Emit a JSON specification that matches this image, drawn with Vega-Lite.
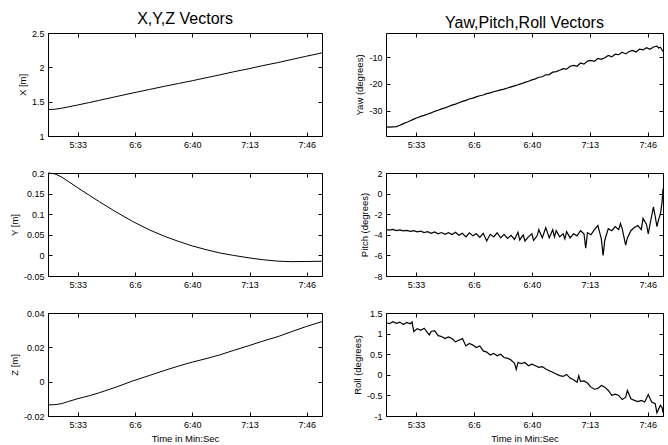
{
  "$schema": "https://vega.github.io/schema/vega-lite/v6.json",
  "background": "white",
  "padding": {"left": 8, "top": 10, "right": 3, "bottom": 2},
  "config": {
    "font": "Liberation Sans",
    "view": {"stroke": "#000", "strokeWidth": 1},
    "axis": {"domain": false, "grid": false, "tickColor": "#000", "tickSize": -4, "labelFontSize": 9, "labelColor": "#000", "labelPadding": 8, "titleFontSize": 9.5, "titleFontWeight": "normal", "titleColor": "#000", "titlePadding": 4},
    "title": {"fontSize": 16, "fontWeight": "normal", "color": "#000", "offset": 2}
  },
  "datasets": {
    "xyz": [
      {"t": 316, "x": 1.385, "y": 0.2, "z": -0.0135},
      {"t": 320, "x": 1.39, "y": 0.198, "z": -0.0134},
      {"t": 324, "x": 1.405, "y": 0.19, "z": -0.0128},
      {"t": 328, "x": 1.425, "y": 0.179, "z": -0.0115},
      {"t": 333, "x": 1.45, "y": 0.165, "z": -0.01},
      {"t": 340, "x": 1.487, "y": 0.146, "z": -0.0082},
      {"t": 346, "x": 1.52, "y": 0.13, "z": -0.0064},
      {"t": 355, "x": 1.57, "y": 0.107, "z": -0.0034},
      {"t": 365, "x": 1.625, "y": 0.083, "z": 0.0003},
      {"t": 375, "x": 1.677, "y": 0.062, "z": 0.0036},
      {"t": 384, "x": 1.725, "y": 0.046, "z": 0.0066},
      {"t": 392, "x": 1.765, "y": 0.034, "z": 0.0091},
      {"t": 400, "x": 1.805, "y": 0.023, "z": 0.0114},
      {"t": 408, "x": 1.848, "y": 0.014, "z": 0.0134},
      {"t": 416, "x": 1.89, "y": 0.006, "z": 0.0156},
      {"t": 424, "x": 1.935, "y": 0.0, "z": 0.0182},
      {"t": 433, "x": 1.98, "y": -0.006, "z": 0.021},
      {"t": 441, "x": 2.025, "y": -0.0105, "z": 0.0236},
      {"t": 450, "x": 2.07, "y": -0.014, "z": 0.0263},
      {"t": 458, "x": 2.115, "y": -0.0152, "z": 0.0292},
      {"t": 466, "x": 2.16, "y": -0.0148, "z": 0.032},
      {"t": 475.5, "x": 2.21, "y": -0.0142, "z": 0.035}
    ],
    "yaw": [
      {"t": 316, "v": -36.0}, {"t": 318, "v": -36.1}, {"t": 320, "v": -36.0}, {"t": 322, "v": -35.9},
      {"t": 324, "v": -35.4}, {"t": 326, "v": -34.8}, {"t": 328, "v": -34.3}, {"t": 330, "v": -33.7},
      {"t": 332, "v": -33.1}, {"t": 334, "v": -32.6}, {"t": 336, "v": -32.1}, {"t": 338, "v": -31.7},
      {"t": 340, "v": -31.2}, {"t": 342, "v": -30.8}, {"t": 344, "v": -30.2}, {"t": 346, "v": -29.8},
      {"t": 348, "v": -29.3}, {"t": 350, "v": -28.9}, {"t": 352, "v": -28.4}, {"t": 354, "v": -27.9},
      {"t": 356, "v": -27.5}, {"t": 358, "v": -27.0}, {"t": 360, "v": -26.5}, {"t": 362, "v": -26.1},
      {"t": 364, "v": -25.6}, {"t": 366, "v": -25.3}, {"t": 368, "v": -24.8}, {"t": 370, "v": -24.4},
      {"t": 372, "v": -24.1}, {"t": 374, "v": -23.6}, {"t": 376, "v": -23.3}, {"t": 378, "v": -22.9},
      {"t": 380, "v": -22.6}, {"t": 382, "v": -22.2}, {"t": 384, "v": -21.9}, {"t": 386, "v": -21.5},
      {"t": 388, "v": -21.1}, {"t": 390, "v": -20.7}, {"t": 392, "v": -20.3}, {"t": 394, "v": -19.9},
      {"t": 396, "v": -19.4}, {"t": 398, "v": -19.0}, {"t": 400, "v": -18.5}, {"t": 402, "v": -18.1},
      {"t": 404, "v": -17.5}, {"t": 406, "v": -17.3}, {"t": 408, "v": -16.6}, {"t": 410, "v": -16.5},
      {"t": 412, "v": -15.6}, {"t": 414, "v": -15.4}, {"t": 416, "v": -14.9}, {"t": 418, "v": -14.3},
      {"t": 420, "v": -14.5}, {"t": 422, "v": -13.4}, {"t": 424, "v": -13.1}, {"t": 426, "v": -13.4},
      {"t": 428, "v": -12.2}, {"t": 430, "v": -12.6}, {"t": 432, "v": -11.5}, {"t": 434, "v": -11.2},
      {"t": 436, "v": -11.6}, {"t": 438, "v": -10.5}, {"t": 440, "v": -10.8}, {"t": 442, "v": -10.2},
      {"t": 444, "v": -9.4}, {"t": 446, "v": -9.9}, {"t": 448, "v": -8.9}, {"t": 450, "v": -9.1},
      {"t": 452, "v": -8.2}, {"t": 454, "v": -8.8}, {"t": 456, "v": -7.9}, {"t": 458, "v": -7.5},
      {"t": 460, "v": -8.1}, {"t": 462, "v": -7.0}, {"t": 464, "v": -7.3}, {"t": 466, "v": -6.5},
      {"t": 468, "v": -7.1}, {"t": 470, "v": -6.2}, {"t": 472, "v": -5.9}, {"t": 473, "v": -6.6},
      {"t": 474, "v": -6.3}, {"t": 475.5, "v": -7.9}
    ],
    "pitch": [
      {"t": 316, "v": -3.5}, {"t": 318, "v": -3.55}, {"t": 320, "v": -3.48}, {"t": 322, "v": -3.6},
      {"t": 324, "v": -3.52}, {"t": 326, "v": -3.62}, {"t": 328, "v": -3.58}, {"t": 330, "v": -3.66},
      {"t": 332, "v": -3.6}, {"t": 334, "v": -3.72}, {"t": 336, "v": -3.65}, {"t": 338, "v": -3.78},
      {"t": 340, "v": -3.7}, {"t": 342, "v": -3.85}, {"t": 344, "v": -3.72}, {"t": 346, "v": -3.9},
      {"t": 348, "v": -3.78}, {"t": 350, "v": -3.95}, {"t": 352, "v": -3.8}, {"t": 354, "v": -3.98},
      {"t": 356, "v": -3.75}, {"t": 358, "v": -4.05}, {"t": 360, "v": -3.85}, {"t": 362, "v": -4.2},
      {"t": 364, "v": -3.8}, {"t": 366, "v": -4.1}, {"t": 368, "v": -3.9}, {"t": 370, "v": -4.25},
      {"t": 372, "v": -3.85}, {"t": 374, "v": -4.6}, {"t": 376, "v": -3.95}, {"t": 378, "v": -4.2},
      {"t": 380, "v": -3.8}, {"t": 382, "v": -4.3}, {"t": 384, "v": -3.95}, {"t": 386, "v": -4.35},
      {"t": 388, "v": -4.05}, {"t": 390, "v": -4.45}, {"t": 392, "v": -3.75}, {"t": 393, "v": -4.5},
      {"t": 395, "v": -4.0}, {"t": 396, "v": -4.6}, {"t": 398, "v": -4.2}, {"t": 400, "v": -3.9},
      {"t": 401, "v": -4.55}, {"t": 403, "v": -4.1}, {"t": 404, "v": -3.5}, {"t": 406, "v": -4.3},
      {"t": 407, "v": -3.8}, {"t": 408, "v": -3.3}, {"t": 410, "v": -4.3}, {"t": 412, "v": -3.5},
      {"t": 413, "v": -4.2}, {"t": 414, "v": -3.6}, {"t": 416, "v": -4.2}, {"t": 418, "v": -3.9},
      {"t": 419, "v": -4.4}, {"t": 420, "v": -3.7}, {"t": 422, "v": -4.3}, {"t": 424, "v": -3.9},
      {"t": 426, "v": -4.1}, {"t": 428, "v": -3.6}, {"t": 430, "v": -3.9}, {"t": 431, "v": -5.3},
      {"t": 432, "v": -3.8}, {"t": 434, "v": -4.0}, {"t": 436, "v": -3.5}, {"t": 438, "v": -3.1},
      {"t": 440, "v": -4.4}, {"t": 441, "v": -6.0}, {"t": 442, "v": -4.5}, {"t": 444, "v": -3.4},
      {"t": 446, "v": -3.6}, {"t": 448, "v": -3.2}, {"t": 450, "v": -3.5}, {"t": 451, "v": -2.9},
      {"t": 452, "v": -3.4}, {"t": 454, "v": -5.0}, {"t": 455, "v": -4.3}, {"t": 457, "v": -3.6},
      {"t": 459, "v": -3.3}, {"t": 461, "v": -3.1}, {"t": 463, "v": -3.5}, {"t": 464, "v": -2.4},
      {"t": 466, "v": -3.0}, {"t": 467, "v": -3.9}, {"t": 468, "v": -3.0}, {"t": 470, "v": -1.3},
      {"t": 471, "v": -2.2}, {"t": 472, "v": -3.2}, {"t": 473, "v": -2.5}, {"t": 474, "v": -2.0},
      {"t": 475, "v": -0.8}, {"t": 475.5, "v": 0.5}
    ],
    "roll": [
      {"t": 316, "v": 1.27}, {"t": 318, "v": 1.24}, {"t": 320, "v": 1.29}, {"t": 322, "v": 1.25},
      {"t": 324, "v": 1.28}, {"t": 326, "v": 1.22}, {"t": 328, "v": 1.27}, {"t": 330, "v": 1.24},
      {"t": 331, "v": 1.28}, {"t": 332, "v": 1.05}, {"t": 334, "v": 1.12}, {"t": 336, "v": 1.08},
      {"t": 338, "v": 1.13}, {"t": 340, "v": 1.02}, {"t": 341, "v": 0.97}, {"t": 342, "v": 1.05},
      {"t": 344, "v": 1.07}, {"t": 346, "v": 0.95}, {"t": 348, "v": 0.93}, {"t": 350, "v": 0.88},
      {"t": 352, "v": 0.92}, {"t": 354, "v": 0.88}, {"t": 356, "v": 0.8}, {"t": 358, "v": 0.84},
      {"t": 360, "v": 0.88}, {"t": 362, "v": 0.7}, {"t": 364, "v": 0.76}, {"t": 366, "v": 0.72},
      {"t": 368, "v": 0.66}, {"t": 370, "v": 0.7}, {"t": 372, "v": 0.58}, {"t": 374, "v": 0.55},
      {"t": 376, "v": 0.48}, {"t": 378, "v": 0.52}, {"t": 380, "v": 0.46}, {"t": 382, "v": 0.5},
      {"t": 384, "v": 0.42}, {"t": 386, "v": 0.4}, {"t": 388, "v": 0.36}, {"t": 390, "v": 0.28},
      {"t": 391, "v": 0.13}, {"t": 392, "v": 0.3}, {"t": 394, "v": 0.27}, {"t": 396, "v": 0.3},
      {"t": 398, "v": 0.22}, {"t": 400, "v": 0.26}, {"t": 402, "v": 0.22}, {"t": 404, "v": 0.18},
      {"t": 406, "v": 0.2}, {"t": 408, "v": 0.14}, {"t": 410, "v": 0.1}, {"t": 412, "v": 0.06},
      {"t": 414, "v": 0.02}, {"t": 416, "v": -0.02}, {"t": 418, "v": -0.04}, {"t": 420, "v": 0.01},
      {"t": 422, "v": -0.08}, {"t": 424, "v": -0.12}, {"t": 426, "v": -0.18}, {"t": 427, "v": -0.02},
      {"t": 428, "v": -0.16}, {"t": 430, "v": -0.15}, {"t": 432, "v": -0.2}, {"t": 434, "v": -0.3},
      {"t": 436, "v": -0.35}, {"t": 438, "v": -0.33}, {"t": 440, "v": -0.26}, {"t": 442, "v": -0.3},
      {"t": 444, "v": -0.38}, {"t": 446, "v": -0.5}, {"t": 448, "v": -0.47}, {"t": 450, "v": -0.5},
      {"t": 452, "v": -0.6}, {"t": 454, "v": -0.55}, {"t": 455, "v": -0.38}, {"t": 457, "v": -0.58},
      {"t": 459, "v": -0.62}, {"t": 461, "v": -0.65}, {"t": 463, "v": -0.62}, {"t": 465, "v": -0.66},
      {"t": 467, "v": -0.48}, {"t": 469, "v": -0.66}, {"t": 471, "v": -0.7}, {"t": 472, "v": -0.92},
      {"t": 474, "v": -0.74}, {"t": 475, "v": -0.8}, {"t": 475.5, "v": -0.92}
    ]
  },
  "columns": 2,
  "spacing": {"row": 37, "column": 64},
  "bounds": "flush",
  "concat": [
    {
      "width": 274, "height": 103, "data": {"name": "xyz"},
      "title": {"text": "X,Y,Z Vectors"},
      "layer": [
        {"mark": {"type": "line", "color": "#000", "strokeWidth": 1},
         "encoding": {
           "x": {"field": "t", "type": "quantitative", "scale": {"domain": [316, 475.5], "nice": false, "zero": false},
                 "axis": {"title": null, "values": [333.34, 366.67, 400, 433.34, 466.67], "labelExpr": "floor(datum.value/60) + ':' + floor(datum.value%60)"}},
           "y": {"field": "x", "type": "quantitative", "scale": {"domain": [1, 2.5], "nice": false, "zero": false},
                 "axis": {"title": "X [m]", "values": [1, 1.5, 2, 2.5], "labelExpr": "datum.value + ''"}}}},
        {"mark": {"type": "line", "opacity": 0},
         "encoding": {
           "x": {"field": "t", "type": "quantitative", "axis": {"orient": "top", "labels": false, "title": null, "values": [333.34, 366.67, 400, 433.34, 466.67]}},
           "y": {"field": "x", "type": "quantitative", "axis": {"orient": "right", "labels": false, "title": null, "values": [1, 1.5, 2, 2.5]}}}}
      ],
      "resolve": {"axis": {"x": "independent", "y": "independent"}}
    },
    {
      "width": 277, "height": 103, "data": {"name": "yaw"},
      "title": {"text": "Yaw,Pitch,Roll Vectors"},
      "layer": [
        {"mark": {"type": "line", "color": "#000", "strokeWidth": 1.2},
         "encoding": {
           "x": {"field": "t", "type": "quantitative", "scale": {"domain": [316, 475.5], "nice": false, "zero": false},
                 "axis": {"title": null, "values": [333.34, 366.67, 400, 433.34, 466.67], "labelExpr": "floor(datum.value/60) + ':' + floor(datum.value%60)"}},
           "y": {"field": "v", "type": "quantitative", "scale": {"domain": [-39.4, -1], "nice": false, "zero": false},
                 "axis": {"title": "Yaw (degrees)", "values": [-30, -20, -10], "labelExpr": "datum.value + ''"}}}},
        {"mark": {"type": "line", "opacity": 0},
         "encoding": {
           "x": {"field": "t", "type": "quantitative", "axis": {"orient": "top", "labels": false, "title": null, "values": [333.34, 366.67, 400, 433.34, 466.67]}},
           "y": {"field": "v", "type": "quantitative", "axis": {"orient": "right", "labels": false, "title": null, "values": [-30, -20, -10]}}}}
      ],
      "resolve": {"axis": {"x": "independent", "y": "independent"}}
    },
    {
      "width": 274, "height": 103, "data": {"name": "xyz"},
      "layer": [
        {"mark": {"type": "line", "color": "#000", "strokeWidth": 1},
         "encoding": {
           "x": {"field": "t", "type": "quantitative", "scale": {"domain": [316, 475.5], "nice": false, "zero": false},
                 "axis": {"title": null, "values": [333.34, 366.67, 400, 433.34, 466.67], "labelExpr": "floor(datum.value/60) + ':' + floor(datum.value%60)"}},
           "y": {"field": "y", "type": "quantitative", "scale": {"domain": [-0.05, 0.2], "nice": false, "zero": false},
                 "axis": {"title": "Y [m]", "values": [-0.05, 0, 0.05, 0.1, 0.15, 0.2], "labelExpr": "datum.value + ''"}}}},
        {"mark": {"type": "line", "opacity": 0},
         "encoding": {
           "x": {"field": "t", "type": "quantitative", "axis": {"orient": "top", "labels": false, "title": null, "values": [333.34, 366.67, 400, 433.34, 466.67]}},
           "y": {"field": "y", "type": "quantitative", "axis": {"orient": "right", "labels": false, "title": null, "values": [-0.05, 0, 0.05, 0.1, 0.15, 0.2]}}}}
      ],
      "resolve": {"axis": {"x": "independent", "y": "independent"}}
    },
    {
      "width": 277, "height": 103, "data": {"name": "pitch"},
      "layer": [
        {"mark": {"type": "line", "color": "#000", "strokeWidth": 1.2},
         "encoding": {
           "x": {"field": "t", "type": "quantitative", "scale": {"domain": [316, 475.5], "nice": false, "zero": false},
                 "axis": {"title": null, "values": [333.34, 366.67, 400, 433.34, 466.67], "labelExpr": "floor(datum.value/60) + ':' + floor(datum.value%60)"}},
           "y": {"field": "v", "type": "quantitative", "scale": {"domain": [-8, 2], "nice": false, "zero": false},
                 "axis": {"title": "Pitch (degrees)", "values": [-8, -6, -4, -2, 0, 2], "labelExpr": "datum.value + ''"}}}},
        {"mark": {"type": "line", "opacity": 0},
         "encoding": {
           "x": {"field": "t", "type": "quantitative", "axis": {"orient": "top", "labels": false, "title": null, "values": [333.34, 366.67, 400, 433.34, 466.67]}},
           "y": {"field": "v", "type": "quantitative", "axis": {"orient": "right", "labels": false, "title": null, "values": [-8, -6, -4, -2, 0, 2]}}}}
      ],
      "resolve": {"axis": {"x": "independent", "y": "independent"}}
    },
    {
      "width": 274, "height": 103, "data": {"name": "xyz"},
      "layer": [
        {"mark": {"type": "line", "color": "#000", "strokeWidth": 1},
         "encoding": {
           "x": {"field": "t", "type": "quantitative", "scale": {"domain": [316, 475.5], "nice": false, "zero": false},
                 "axis": {"title": "Time in Min:Sec", "values": [333.34, 366.67, 400, 433.34, 466.67], "labelExpr": "floor(datum.value/60) + ':' + floor(datum.value%60)"}},
           "y": {"field": "z", "type": "quantitative", "scale": {"domain": [-0.02, 0.04], "nice": false, "zero": false},
                 "axis": {"title": "Z [m]", "values": [-0.02, 0, 0.02, 0.04], "labelExpr": "datum.value + ''"}}}},
        {"mark": {"type": "line", "opacity": 0},
         "encoding": {
           "x": {"field": "t", "type": "quantitative", "axis": {"orient": "top", "labels": false, "title": null, "values": [333.34, 366.67, 400, 433.34, 466.67]}},
           "y": {"field": "z", "type": "quantitative", "axis": {"orient": "right", "labels": false, "title": null, "values": [-0.02, 0, 0.02, 0.04]}}}}
      ],
      "resolve": {"axis": {"x": "independent", "y": "independent"}}
    },
    {
      "width": 277, "height": 103, "data": {"name": "roll"},
      "layer": [
        {"mark": {"type": "line", "color": "#000", "strokeWidth": 1.2},
         "encoding": {
           "x": {"field": "t", "type": "quantitative", "scale": {"domain": [316, 475.5], "nice": false, "zero": false},
                 "axis": {"title": "Time in Min:Sec", "values": [333.34, 366.67, 400, 433.34, 466.67], "labelExpr": "floor(datum.value/60) + ':' + floor(datum.value%60)"}},
           "y": {"field": "v", "type": "quantitative", "scale": {"domain": [-1, 1.5], "nice": false, "zero": false},
                 "axis": {"title": "Roll (degrees)", "values": [-1, -0.5, 0, 0.5, 1, 1.5], "labelExpr": "datum.value + ''"}}}},
        {"mark": {"type": "line", "opacity": 0},
         "encoding": {
           "x": {"field": "t", "type": "quantitative", "axis": {"orient": "top", "labels": false, "title": null, "values": [333.34, 366.67, 400, 433.34, 466.67]}},
           "y": {"field": "v", "type": "quantitative", "axis": {"orient": "right", "labels": false, "title": null, "values": [-1, -0.5, 0, 0.5, 1, 1.5]}}}}
      ],
      "resolve": {"axis": {"x": "independent", "y": "independent"}}
    }
  ]
}
